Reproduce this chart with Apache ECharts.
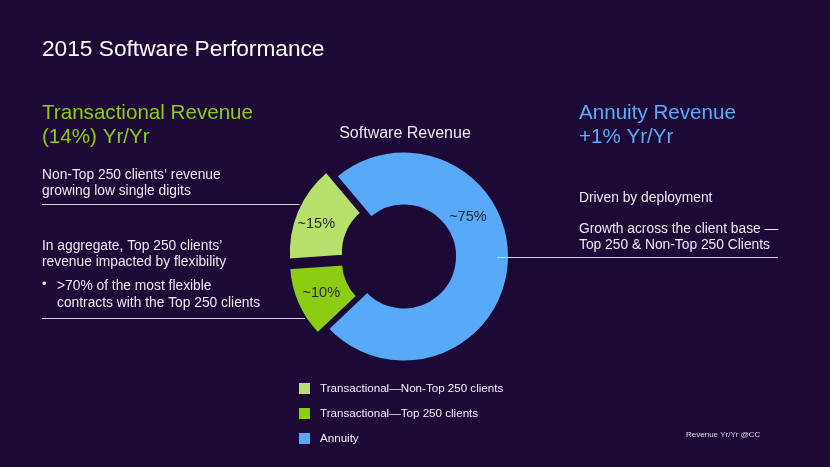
<!DOCTYPE html>
<html>
<head>
<meta charset="utf-8">
<script src="https://cdn.jsdelivr.net/npm/echarts@6/dist/echarts.min.js"></script>
<style>
html,body{margin:0;padding:0;background:#1d0936;}
#chart{width:830px;height:467px;}
</style>
</head>
<body>
<div id="chart"></div>
<script>
// ---- data ----
var categories = ['Transactional\u2014Non-Top 250 clients', 'Transactional\u2014Top 250 clients', 'Annuity'];
var values = [15, 11, 74];
var sliceLabels = ['~15%', '~10%', '~75%'];
var exploded = [true, true, false];

// ---- styling ----
var BG = '#1d0936';
var FONT = '"Liberation Sans", Arial, sans-serif';
var colors = ['#b8e06c', '#8ccc12', '#58aaf8'];
var labelOffsets = [[-3, 3.5], [1.5, -1], [-17, -44]];

var chart = echarts.init(document.getElementById('chart'), null, {renderer: 'canvas'});

function txt(text, x, y, size, color, extra) {
  var s = {text: text, x: x, y: y, fill: color, font: size + 'px ' + FONT, textVerticalAlign: 'top'};
  if (extra) for (var k in extra) s[k] = extra[k];
  return {type: 'text', z: 10, silent: true, style: s};
}
function hline(x1, x2, y, z) {
  return {type: 'line', z: z, silent: true, shape: {x1: x1, y1: y, x2: x2, y2: y},
    style: {stroke: '#d6cfe0', lineWidth: 1}};
}

var option = {
  backgroundColor: BG,
  animation: false,
  legend: {
    orient: 'vertical',
    left: 292, top: 376,
    itemWidth: 13, itemHeight: 13, itemGap: 10,
    icon: 'rect',
    selectedMode: false,
    data: categories,
    textStyle: {color: '#f2f0f6', fontSize: 11.6, fontFamily: FONT, padding: [0, 0, 0, 4]}
  },
  graphic: [
    txt('2015 Software Performance', 42, 38.5, 22.7, '#ffffff'),
    txt('Transactional Revenue\n(14%) Yr/Yr', 42, 101.5, 20.6, '#8ccc14', {lineHeight: 24}),
    txt('Non-Top 250 clients\u2019 revenue\ngrowing low single digits', 42, 167, 13.8, '#ece9f2', {lineHeight: 16}),
    txt('In aggregate, Top 250 clients\u2019\nrevenue impacted by flexibility', 42, 238, 13.8, '#ece9f2', {lineHeight: 16}),
    txt('\u2022', 42, 278, 13, '#ece9f2'),
    txt('>70% of the most flexible\ncontracts with the Top 250 clients', 57, 278, 13.8, '#ece9f2', {lineHeight: 16.5}),
    txt('Software Revenue', 405, 125.5, 16, '#ece9f2', {textAlign: 'center'}),
    txt('Annuity Revenue\n+1% Yr/Yr', 579, 101.5, 20.6, '#5aacf8', {lineHeight: 24}),
    txt('Driven by deployment', 579, 191, 13.8, '#ece9f2'),
    txt('Growth across the client base \u2014\nTop 250 & Non-Top 250 Clients', 579, 221.5, 13.8, '#ece9f2', {lineHeight: 16}),
    txt('Revenue Yr/Yr @CC', 686, 430.5, 8, '#dcd8e4'),
    hline(42, 320, 204.5, 0),
    hline(42, 320, 318.5, 0),
    hline(497, 778, 257.5, 100)
  ],
  series: [{
    type: 'pie',
    center: [404, 256.5],
    radius: [51, 105],
    startAngle: 130,
    clockwise: false,
    selectedMode: 'multiple',
    selectedOffset: 11,
    emphasis: {disabled: true},
    itemStyle: {borderColor: BG, borderWidth: 2},
    label: {show: true, position: 'inside', color: '#2a2838', fontSize: 14.5, fontFamily: FONT,
      formatter: function (p) { return sliceLabels[p.dataIndex]; }},
    labelLine: {show: false},
    data: categories.map(function (c, i) {
      return {name: c, value: values[i], selected: exploded[i],
        itemStyle: {color: colors[i]},
        label: {offset: labelOffsets[i]},
        select: {label: {offset: labelOffsets[i]}}};
    })
  }]
};
chart.setOption(option);
</script>
</body>
</html>
